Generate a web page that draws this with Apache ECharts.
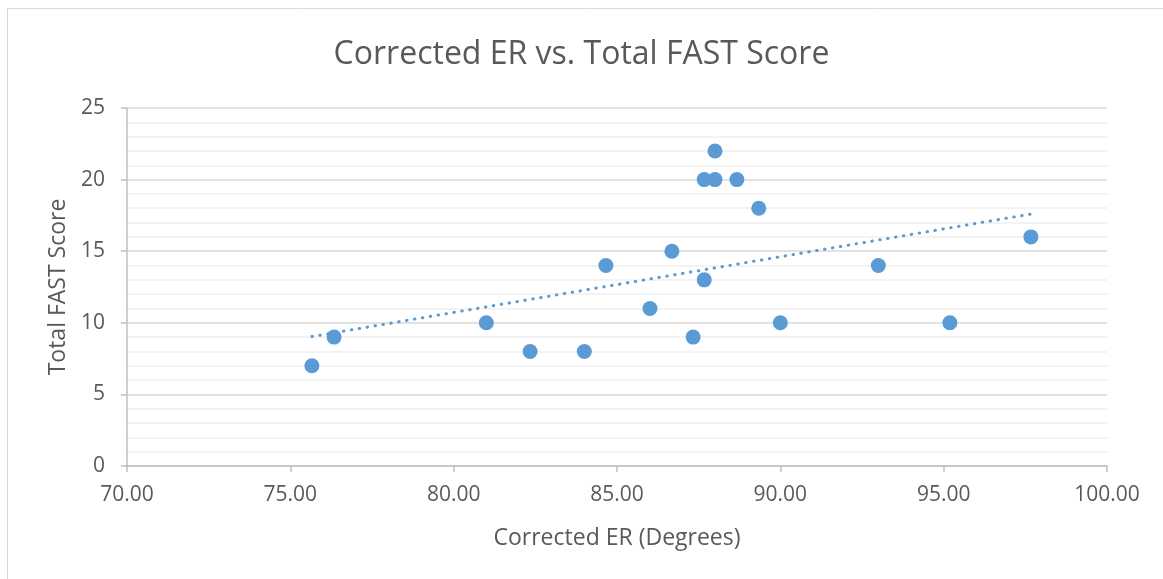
<!DOCTYPE html>
<html><head><meta charset="utf-8">
<script src="https://cdn.jsdelivr.net/npm/echarts@6/dist/echarts.min.js"></script>
<style>html,body{margin:0;padding:0;background:#fff;}#c{width:1163px;height:579px;}</style>
</head><body><div id="c"></div>
<script>
const titleText = 'Corrected ER vs. Total FAST Score';
const xName = 'Corrected ER (Degrees)';
const yName = 'Total FAST Score';
const correctedER = [75.66, 76.34, 81.0, 82.34, 84.0, 84.66, 86.01, 86.68, 87.33, 87.67, 87.67, 88.0, 88.0, 88.67, 89.34, 90.0, 93.0, 95.19, 97.67];
const fastScore   = [7, 9, 10, 8, 8, 14, 11, 15, 9, 13, 20, 22, 20, 20, 18, 10, 14, 10, 16];

const pts = correctedER.map((x, i) => [x, fastScore[i]]);
// least-squares trendline
const n = pts.length;
const mx = correctedER.reduce((a, b) => a + b, 0) / n;
const my = fastScore.reduce((a, b) => a + b, 0) / n;
let sxy = 0, sxx = 0;
pts.forEach(([x, y]) => { sxy += (x - mx) * (y - my); sxx += (x - mx) * (x - mx); });
const slope = sxy / sxx, icpt = my - slope * mx;
const xmin = Math.min(...correctedER), xmax = Math.max(...correctedER);
const trend = [[xmin, icpt + slope * xmin], [xmax, icpt + slope * xmax]];

const font = '"Open Sans", "Noto Sans", sans-serif';
const chart = echarts.init(document.getElementById('c'));
chart.setOption({
  animation: false,
  title: { text: titleText, left: 'center', top: 34, textStyle: { fontFamily: font, fontSize: 32, fontWeight: 'normal', color: '#595959' } },
  graphic: [{ type: 'rect', shape: { x: 7.5, y: 8.5, width: 1170, height: 600 }, style: { fill: 'none', stroke: '#d9d9d9', lineWidth: 1 }, silent: true }],
  grid: { left: 127, right: 56, top: 108, bottom: 113 },
  xAxis: {
    type: 'value', min: 70, max: 100, interval: 5,
    name: xName, nameLocation: 'middle', nameGap: 61,
    nameTextStyle: { fontFamily: font, fontSize: 23, color: '#595959' },
    axisLine: { show: true, lineStyle: { color: '#bfbfbf', width: 1.5 } },
    axisTick: { show: true, length: 6, inside: false, lineStyle: { color: '#bfbfbf', width: 1.5 } },
    axisLabel: { fontFamily: font, fontSize: 21, color: '#595959', margin: 19, formatter: v => v.toFixed(2) },
    splitLine: { show: false }
  },
  yAxis: {
    type: 'value', min: 0, max: 25, interval: 5,
    name: yName, nameLocation: 'middle', nameGap: 57, nameRotate: 90,
    nameTextStyle: { fontFamily: font, fontSize: 23, color: '#595959' },
    axisLine: { show: true, lineStyle: { color: '#bfbfbf', width: 1.5 } },
    axisTick: { show: true, length: 6, lineStyle: { color: '#bfbfbf', width: 1.5 } },
    axisLabel: { fontFamily: font, fontSize: 21, color: '#595959', margin: 22 },
    splitLine: { show: true, lineStyle: { color: '#d9d9d9', width: 1.5 } },
    minorTick: { show: false, splitNumber: 5 },
    minorSplitLine: { show: true, lineStyle: { color: '#f0f0f0', width: 1.5 } }
  },
  series: [
    { type: 'line', data: trend, symbol: 'none', z: 1,
      lineStyle: { color: '#5b9bd5', width: 3, type: [0.5, 7.5], cap: 'round' } },
    { type: 'scatter', data: pts, symbol: 'circle', symbolSize: 15, z: 2,
      itemStyle: { color: '#5b9bd5', opacity: 1 } }
  ]
});
</script></body></html>
